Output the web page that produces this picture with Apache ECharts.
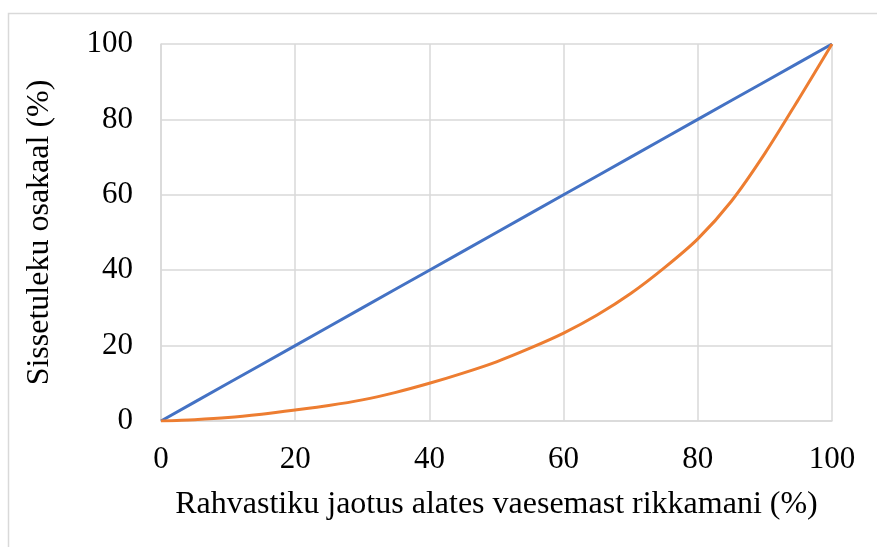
<!DOCTYPE html>
<html>
<head>
<meta charset="utf-8">
<script src="https://cdn.jsdelivr.net/npm/echarts@6/dist/echarts.min.js"></script>
<style>
  html, body { margin: 0; padding: 0; background: #fff; }
  #chart { width: 877px; height: 547px; }
</style>
</head>
<body>
<div id="chart"></div>
<script>
// population share (%) and cumulative income share (%)
var population = [0, 5, 10, 15, 20, 25, 30, 35, 40, 45, 50, 55, 60, 65, 70, 75, 80, 85, 90, 95, 100];
var equality = [0, 5, 10, 15, 20, 25, 30, 35, 40, 45, 50, 55, 60, 65, 70, 75, 80, 85, 90, 95, 100];
var lorenz = [0, 0.35, 0.9, 1.8, 2.9, 4.1, 5.6, 7.6, 10, 12.7, 15.7, 19.3, 23.3, 28.1, 33.8, 40.6, 48.3, 58.3, 71, 85.3, 100];
var xTitle = 'Rahvastiku jaotus alates vaesemast rikkamani (%)';
var yTitle = 'Sissetuleku osakaal (%)';

var font = '"Liberation Serif", "DejaVu Serif", serif';
var gridColor = '#d9d9d9';

var chart = echarts.init(document.getElementById('chart'));
chart.setOption({
  animation: false,
  graphic: [
    {
      type: 'rect',
      shape: { x: 8.5, y: 13.5, width: 900, height: 600 },
      style: { fill: 'none', stroke: gridColor, lineWidth: 1.5 },
      silent: true,
      z: -1
    }
  ],
  grid: { left: 161, right: 45, top: 44, bottom: 126 },
  xAxis: {
    type: 'value',
    min: 0, max: 100, interval: 20,
    name: xTitle,
    nameLocation: 'middle',
    nameGap: 68,
    nameTextStyle: { fontFamily: font, fontSize: 32, color: '#000' },
    axisLine: { show: true, lineStyle: { color: gridColor, width: 1.5 } },
    axisTick: { show: false },
    axisLabel: { fontFamily: font, fontSize: 31, color: '#000', margin: 23 },
    splitLine: { show: true, lineStyle: { color: gridColor, width: 1.5 } }
  },
  yAxis: {
    type: 'value',
    min: 0, max: 100, interval: 20,
    name: yTitle,
    nameLocation: 'middle',
    nameGap: 105,
    nameTextStyle: { fontFamily: font, fontSize: 32, color: '#000' },
    axisLine: { show: true, lineStyle: { color: gridColor, width: 1.5 } },
    axisTick: { show: false },
    axisLabel: { fontFamily: font, fontSize: 31, color: '#000', margin: 28 },
    splitLine: { show: true, lineStyle: { color: gridColor, width: 1.5 } }
  },
  series: [
    {
      type: 'line',
      data: population.map(function (p, i) { return [p, equality[i]]; }),
      showSymbol: false,
      lineStyle: { color: '#4472C4', width: 3 }
    },
    {
      type: 'line',
      data: population.map(function (p, i) { return [p, lorenz[i]]; }),
      showSymbol: false,
      smooth: 0.3,
      lineStyle: { color: '#ED7D31', width: 3 }
    }
  ]
});
</script>
</body>
</html>
